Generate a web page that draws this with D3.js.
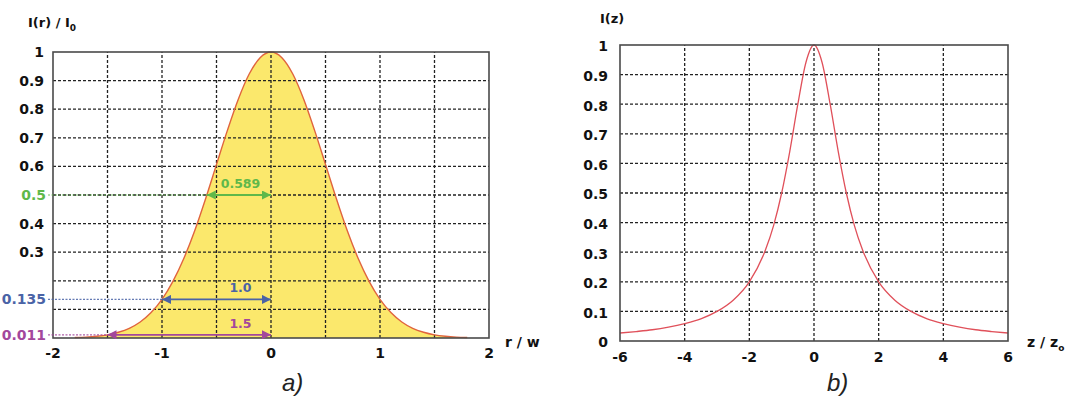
<!DOCTYPE html>
<html><head><meta charset="utf-8">
<script src="https://cdn.jsdelivr.net/npm/d3@7"></script>
<style>
html,body{margin:0;padding:0;background:#fff;}
svg{display:block;}
text{font-family:"DejaVu Sans",sans-serif;font-weight:bold;}
text.panel{font-family:"Liberation Sans",Arial,sans-serif;font-weight:normal;font-style:italic;}
</style></head>
<body>
<svg id="c" width="1080" height="399"></svg>
<script>
// ---------- data: panel a) Gaussian beam profile ----------
const rValues = [-1.8,-1.7,-1.6,-1.5,-1.4,-1.3,-1.2,-1.1,-1.0,-0.9,-0.8,-0.7,-0.6,-0.5,-0.4,-0.3,-0.2,-0.1,0,
                 0.1,0.2,0.3,0.4,0.5,0.6,0.7,0.8,0.9,1.0,1.1,1.2,1.3,1.4,1.5,1.6,1.7,1.8];
const irValues = [0.0015,0.003,0.006,0.011,0.020,0.034,0.056,0.089,0.135,0.198,0.278,0.375,0.487,0.607,0.726,0.835,0.923,0.980,1.0,
                  0.980,0.923,0.835,0.726,0.607,0.487,0.375,0.278,0.198,0.135,0.089,0.056,0.034,0.020,0.011,0.006,0.003,0.0015];
const aXTicks = [-2,-1,0,1,2];
const aXGrid = [-1.5,-1,-0.5,0,0.5,1,1.5];
const aYGrid = [0.1,0.2,0.3,0.4,0.5,0.6,0.7,0.8,0.9];
const aYTicks = [0.3,0.4,0.6,0.7,0.8,0.9,1];
const markLevels = [0.5,0.135,0.011];
const markWidths = [0.589,1.0,1.5];
const markLabels = ["0.589","1.0","1.5"];
const markTickLabels = ["0.5","0.135","0.011"];

// ---------- data: panel b) on-axis intensity ----------
const zValues = [-6,-5.5,-5,-4.5,-4,-3.5,-3,-2.5,-2,-1.5,-1.25,-1,-0.75,-0.5,-0.25,0,
                 0.25,0.5,0.75,1,1.25,1.5,2,2.5,3,3.5,4,4.5,5,5.5,6];
const izValues = [0.027,0.032,0.038,0.047,0.059,0.075,0.100,0.138,0.200,0.308,0.390,0.500,0.640,0.800,0.941,1.0,
                  0.941,0.800,0.640,0.500,0.390,0.308,0.200,0.138,0.100,0.075,0.059,0.047,0.038,0.032,0.027];
const bXTicks = [-6,-4,-2,0,2,4,6];
const bXGrid = [-4,-2,0,2,4];
const bYGrid = [0.1,0.2,0.3,0.4,0.5,0.6,0.7,0.8,0.9];
const bYTicks = [0,0.1,0.2,0.3,0.4,0.5,0.6,0.7,0.8,0.9,1];

const markColors = ["#5fb84a","#4a63a6","#a3479c"];

const svg = d3.select("#c");
const defs = svg.append("defs");
markColors.forEach((c,i)=>{
  ["s","e"].forEach(k=>{
    defs.append("marker").attr("id","m"+k+i)
      .attr("viewBox","0 0 10 10").attr("refX",10).attr("refY",5)
      .attr("markerWidth",10).attr("markerHeight",9).attr("markerUnits","userSpaceOnUse")
      .attr("orient", k==="s" ? "auto-start-reverse" : "auto")
      .append("path").attr("d","M0,0 L10,5 L0,10 z").attr("fill",c);
  });
});

// ================= Panel a =================
const xA = d3.scaleLinear().domain([-2,2]).range([53,489]);
const yA = d3.scaleLinear().domain([0,1]).range([338,52]);
const gA = svg.append("g");

const ptsA = rValues.map((r,i)=>[r,irValues[i]]);
gA.append("path").datum(ptsA)
  .attr("d", d3.area().x(d=>xA(d[0])).y0(yA(0)).y1(d=>yA(d[1])).curve(d3.curveMonotoneX))
  .attr("fill","#fbe86c");

const gridStyle = sel => sel.attr("stroke","#222").attr("stroke-width",1.3).attr("stroke-dasharray","3,2");
gA.selectAll(".gy").data(aYGrid).join("line")
  .attr("x1",xA(-2)).attr("x2",xA(2)).attr("y1",d=>yA(d)).attr("y2",d=>yA(d)).call(gridStyle);
gA.selectAll(".gx").data(aXGrid).join("line")
  .attr("x1",d=>xA(d)).attr("x2",d=>xA(d)).attr("y1",yA(0)).attr("y2",yA(1)).call(gridStyle);

gA.append("path").datum(ptsA)
  .attr("d", d3.line().x(d=>xA(d[0])).y(d=>yA(d[1])).curve(d3.curveMonotoneX))
  .attr("fill","none").attr("stroke","#e0643e").attr("stroke-width",1.4);

gA.append("rect").attr("x",xA(-2)).attr("y",yA(1)).attr("width",xA(2)-xA(-2)).attr("height",yA(0)-yA(1))
  .attr("fill","none").attr("stroke","#4a4a4a").attr("stroke-width",1.6);

// level markers
markLevels.forEach((lv,i)=>{
  const c = markColors[i];
  gA.append("line").attr("x1",48).attr("x2",xA(-markWidths[i])).attr("y1",yA(lv)).attr("y2",yA(lv))
    .attr("stroke",c).attr("stroke-width",1.1).attr("stroke-dasharray","2,1.5").attr("opacity",0.85);
  gA.append("line").attr("x1",xA(-markWidths[i])).attr("x2",xA(0)).attr("y1",yA(lv)).attr("y2",yA(lv))
    .attr("stroke",c).attr("stroke-width",1.8)
    .attr("marker-start","url(#ms"+i+")").attr("marker-end","url(#me"+i+")");
  gA.append("text").attr("x",xA(-0.28)).attr("y",yA(lv)-7).attr("text-anchor","middle")
    .attr("font-size",12.5).attr("fill",c).text(markLabels[i]);
  gA.append("text").attr("x",46).attr("y",yA(lv)).attr("dy","0.36em").attr("text-anchor","end")
    .attr("font-size",14).attr("fill",c).text(markTickLabels[i]);
});

gA.selectAll(".yl").data(aYTicks).join("text")
  .attr("x",44).attr("y",d=>yA(d)).attr("dy","0.36em").attr("text-anchor","end")
  .attr("font-size",14).attr("fill","#111").text(d=>d3.format("~g")(d));
gA.selectAll(".xl").data(aXTicks).join("text")
  .attr("x",d=>xA(d)).attr("y",358).attr("text-anchor","middle")
  .attr("font-size",14).attr("fill","#111").text(d=>d);

const tA = gA.append("text").attr("x",28).attr("y",27).attr("font-size",13).attr("fill","#111");
tA.append("tspan").text("I(r) / I");
tA.append("tspan").attr("dy",4).attr("font-size",9).text("0");
gA.append("text").attr("x",505).attr("y",347).attr("font-size",14).attr("fill","#111").text("r / w");
gA.append("text").attr("class","panel").attr("x",282).attr("y",391).attr("font-size",24)
  .attr("fill","#222").text("a)");

// ================= Panel b =================
const xB = d3.scaleLinear().domain([-6,6]).range([620,1008]);
const yB = d3.scaleLinear().domain([0,1]).range([341,45]);
const gB = svg.append("g");

gB.selectAll(".gy").data(bYGrid).join("line")
  .attr("x1",xB(-6)).attr("x2",xB(6)).attr("y1",d=>yB(d)).attr("y2",d=>yB(d)).call(gridStyle);
gB.selectAll(".gx").data(bXGrid).join("line")
  .attr("x1",d=>xB(d)).attr("x2",d=>xB(d)).attr("y1",yB(0)).attr("y2",yB(1)).call(gridStyle);

const ptsB = zValues.map((z,i)=>[z,izValues[i]]);
gB.append("path").datum(ptsB)
  .attr("d", d3.line().x(d=>xB(d[0])).y(d=>yB(d[1])).curve(d3.curveMonotoneX))
  .attr("fill","none").attr("stroke","#e0505a").attr("stroke-width",1.3);

gB.append("rect").attr("x",xB(-6)).attr("y",yB(1)).attr("width",xB(6)-xB(-6)).attr("height",yB(0)-yB(1))
  .attr("fill","none").attr("stroke","#4a4a4a").attr("stroke-width",1.6);

gB.selectAll(".yl").data(bYTicks).join("text")
  .attr("x",608).attr("y",d=>yB(d)).attr("dy","0.45em").attr("text-anchor","end")
  .attr("font-size",14).attr("fill","#111").text(d=>d3.format("~g")(d));
gB.selectAll(".xl").data(bXTicks).join("text")
  .attr("x",d=>xB(d)).attr("y",362).attr("text-anchor","middle")
  .attr("font-size",14).attr("fill","#111").text(d=>d);

gB.append("text").attr("x",600).attr("y",23).attr("font-size",13).attr("fill","#111").text("I(z)");
const tB = gB.append("text").attr("x",1027).attr("y",347).attr("font-size",14).attr("fill","#111");
tB.append("tspan").text("z / z");
tB.append("tspan").attr("dy",4).attr("font-size",9).text("o");
gB.append("text").attr("class","panel").attr("x",827).attr("y",391).attr("font-size",24)
  .attr("fill","#222").text("b)");
</script>
</body></html>
